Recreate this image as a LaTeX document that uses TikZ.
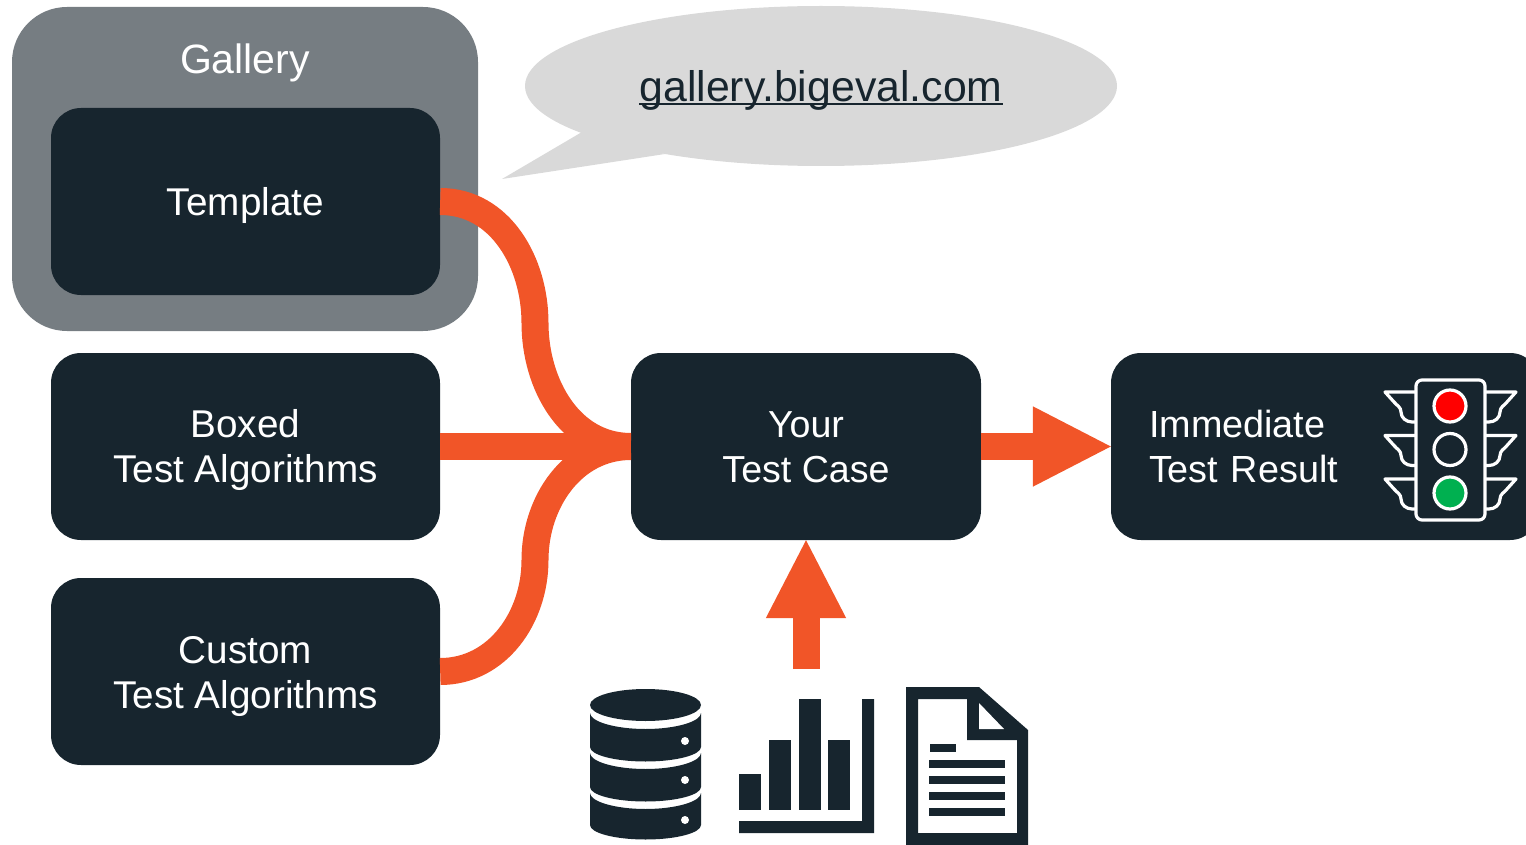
\documentclass[tikz,border=0pt]{standalone}
\usepackage{fontspec}
\setmainfont{Liberation Sans}
\usetikzlibrary{arrows.meta,shapes.geometric}
\definecolor{ink}{HTML}{17252E}
\definecolor{slate}{HTML}{767D82}
\definecolor{flame}{HTML}{F15528}
\definecolor{cloud}{HTML}{D9D9D9}
\definecolor{go}{HTML}{00B050}
\tikzset{
  box/.style={draw=none, fill=ink, text=white, rounded corners=30pt, align=center, font=\fontsize{38.7}{45}\selectfont},
  lines/.style={execute at begin node={\rule{0pt}{#1}}, execute at end node={\rule[-4pt]{0pt}{4pt}}},
  lines/.default=36pt,
  flow/.style={draw=flame, line width=27pt},
  blockarrow/.style={flow, shorten >=-2pt, -{Triangle[length=80pt,width=74pt]}},
  lamp/.style={draw=white, line width=3.2pt},
  wing/.style={draw=white, line width=3.2pt, line join=round}
}

\begin{document}
\begin{tikzpicture}[x=1pt,y=-1pt]
      \clip (0,0) rectangle (1526,845);
      \node[fill=slate, rounded corners=55pt, minimum width=466pt, minimum height=324pt, inner sep=0pt] (gallery) at (245,169) {};
      \node[text=white, font=\fontsize{41}{48}\selectfont] (galleryname) at (245,63) {Gallery};
      \fill[cloud] (582,132) -- (502,179) -- (665,154) -- cycle;
      \node[ellipse, fill=cloud, minimum width=592pt, minimum height=160pt, inner sep=0pt] (bubble) at (821,86) {};
      \node[anchor=base, inner sep=0pt, text=ink, font=\fontsize{42.8}{48}\selectfont] (link) at (821,102) {gallery.bigeval.com};
      \draw[ink, line width=2pt] ([yshift=-2pt]link.base west) -- ([yshift=-2pt]link.base east);

      \node[box, lines, minimum width=389pt, minimum height=187pt] (template) at (245.5,201.5) {Template};
      \node[box, minimum width=389pt, minimum height=187pt] (boxed) at (245.5,446.5) {\rule{0pt}{35.5pt}Boxed\\Test Algorithms};
      \node[box, minimum width=389pt, minimum height=187pt] (custom) at (245.5,671.5) {\rule{0pt}{36.5pt}Custom\\Test Algorithms};
      \node[box, minimum width=350pt, minimum height=187pt, font=\fontsize{37.6}{45}\selectfont] (testcase) at (806,446.5) {\rule{0pt}{33.5pt}Your\\Test Case\rule[-7pt]{0pt}{7pt}};
      \node[box, lines=30pt, minimum width=429pt, minimum height=187pt, text width=353pt, inner sep=0pt, align=left, font=\fontsize{37.8}{45}\selectfont] (result) at (1325.5,446.5) {Immediate\\Test Result};

      \coordinate (upperbend) at (535,323);
      \coordinate (lowerbend) at (535,560);
      \coordinate (sources) at (806,669);
      \draw [flow] (template.east) to [out=0,in=90] (upperbend) to [out=270,in=180] (testcase.west);
      \draw [flow] (custom.east) to [out=0,in=270] (lowerbend) to [out=90,in=180] (testcase.west);
      \draw [flow] (boxed.east) -- (testcase.west);
      \draw [blockarrow] (testcase.east) -- (result.west);
      \draw [blockarrow] (sources) -- (testcase.south);

      \foreach \y in {0,43.5,87} {
        \draw[wing, yshift=-\y pt] (1416,392) -- (1385,392) -- (1394,402) to [out=-50,in=90] (1401,412) to [out=-90,in=180] (1412,422) -- (1416,422);
        \draw[wing, yshift=-\y pt] (1485,392) -- (1516,392) -- (1507,402) to [out=230,in=90] (1500,412) to [out=-90,in=0] (1489,422) -- (1485,422);
      }
      \draw[lamp, fill=ink, rounded corners=6pt] (1416,380) rectangle (1485,520);
      \draw[lamp, fill=red] (1450,406) circle (16);
      \draw[lamp] (1450,449.5) circle (16);
      \draw[lamp, fill=go] (1450,493) circle (16);

      \fill[ink] (590,705) arc (180:0:55.5 and 16) arc (0:-180:55.5 and 16) -- cycle;
      \foreach \t/\b in {713/747,753/787,793/825} {
        \fill[ink] (590,\t) .. controls +(0,8.5) and +(-30.5,0) .. (645.5,\t+16) .. controls +(30.5,0) and +(0,8.5) .. (701,\t) -- (701,\b) .. controls +(0,8) and +(30.5,0) .. (645.5,\b+14.5) .. controls +(-30.5,0) and +(0,8) .. (590,\b) -- cycle;
      }
      \foreach \y in {741,780,820} \fill[white] (685,\y) circle (4);

      \fill[ink] (739,774) rectangle (761,810);
      \fill[ink] (769,740) rectangle (791,810);
      \fill[ink] (799,699) rectangle (821,810);
      \fill[ink] (828,740) rectangle (850,810);
      \fill[ink] (862,699) -- (874,699) -- (874,833) -- (739,833) -- (739,821) -- (862,821) -- cycle;

      \fill[ink, even odd rule] (906,687) -- (979,687) -- (1028,730) -- (1028,845) -- (906,845) -- cycle
        (918,699) -- (967,699) -- (967,740) -- (1017,740) -- (1017,833) -- (918,833) -- cycle;
      \fill[white] (979,703) -- (1004,729) -- (979,729) -- cycle;
      \fill[ink] (930,744) rectangle (956,752);
      \foreach \y in {760,776,792,808} \fill[ink] (929,\y) rectangle (1005,\y+8);
    \end{tikzpicture}
\end{document}
